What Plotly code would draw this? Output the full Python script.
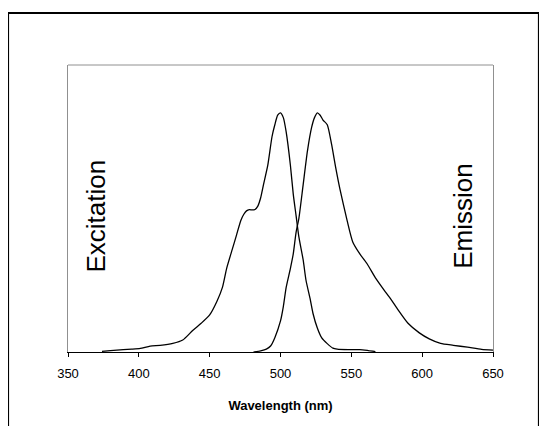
import plotly.graph_objects as go

# Excitation spectrum (normalized)
ex_wl = [374, 380, 389, 395, 401, 408, 415, 424, 431, 438, 444, 450, 455, 459, 462,
         466, 469, 472, 474, 476, 478, 480, 482, 484, 486, 488, 491, 494, 496, 498, 500, 502,
         504, 507, 509, 511, 513, 516, 518, 521, 523, 526, 529, 533, 537, 540, 548,
         556, 562, 567]
ex_val = [0.003, 0.006, 0.01, 0.012, 0.015, 0.025, 0.028, 0.036, 0.05, 0.09, 0.12, 0.155,
          0.21, 0.27, 0.35, 0.43, 0.49, 0.55, 0.575, 0.59, 0.595, 0.594, 0.596, 0.61, 0.645,
          0.7, 0.78, 0.9, 0.95, 0.99, 1.0, 0.98, 0.92, 0.78, 0.66, 0.57, 0.48, 0.385, 0.3,
          0.22, 0.16, 0.1, 0.06, 0.035, 0.016, 0.012, 0.01, 0.01, 0.006, 0.002]

# Emission spectrum (normalized)
em_wl = [481, 486, 490, 493, 496, 500, 502, 504, 507, 509, 511, 513, 516, 519, 522, 524,
         526, 528, 530, 533, 536, 539, 542, 547, 551, 556, 561, 567, 573, 578, 583, 590,
         598, 605, 613, 622, 632, 642, 650]
em_val = [0.0, 0.005, 0.012, 0.025, 0.06, 0.13, 0.19, 0.27, 0.35, 0.41, 0.5, 0.56, 0.7,
          0.84, 0.94, 0.98, 1.0, 0.99, 0.97, 0.95, 0.87, 0.77, 0.68, 0.55, 0.46, 0.41,
          0.37, 0.31, 0.26, 0.22, 0.176, 0.12, 0.08, 0.055, 0.036, 0.028, 0.02, 0.011, 0.008]

x_ticks = [350, 400, 450, 500, 550, 600, 650]
x_title = "Wavelength (nm)"
label_ex = "Excitation"
label_em = "Emission"

FONT = "Liberation Sans, Arial, sans-serif"

fig = go.Figure()
fig.add_trace(go.Scatter(x=ex_wl, y=ex_val, mode="lines", line_shape="spline",
                         line=dict(color="black", width=1.3, smoothing=0.6), showlegend=False))
fig.add_trace(go.Scatter(x=em_wl, y=em_val, mode="lines", line_shape="spline",
                         line=dict(color="black", width=1.3, smoothing=0.6), showlegend=False))

fig.update_layout(
    width=539, height=418,
    margin=dict(l=60, r=54, t=57, b=74),
    paper_bgcolor="white", plot_bgcolor="white",
    font=dict(family=FONT, color="black"),
    xaxis=dict(range=[350, 650], tickvals=x_ticks, ticktext=[str(v) for v in x_ticks],
               showgrid=False, zeroline=False, showline=True, linecolor="black",
               linewidth=1.3, ticks="outside", ticklen=4, tickcolor="black",
               ticklabelstandoff=5,
               tickfont=dict(size=13, family=FONT),
               title=dict(text="<b>" + x_title + "</b>", font=dict(size=13, family=FONT),
                          standoff=21)),
    yaxis=dict(range=[0, 1.2], showgrid=False, zeroline=False, showticklabels=False,
               ticks="", showline=True, linecolor="#909090", linewidth=1, mirror=True),
    shapes=[
        dict(type="line", xref="paper", yref="paper", x0=0, x1=1, y0=1, y1=1,
             line=dict(color="#909090", width=1)),
        dict(type="path", xref="paper", yref="paper",
             path="M -0.141,-0.3 L -0.141,1.181 L 1.108,1.181 L 1.108,-0.3",
             line=dict(color="black", width=2)),
    ],
    annotations=[
        dict(text=label_ex, x=0.065, y=0.474, xref="paper", yref="paper",
             textangle=-90, showarrow=False, xanchor="center", yanchor="middle",
             font=dict(size=26, family=FONT)),
        dict(text=label_em, x=0.929, y=0.474, xref="paper", yref="paper",
             textangle=-90, showarrow=False, xanchor="center", yanchor="middle",
             font=dict(size=26, family=FONT)),
    ],
)

fig.write_html("out.html")
